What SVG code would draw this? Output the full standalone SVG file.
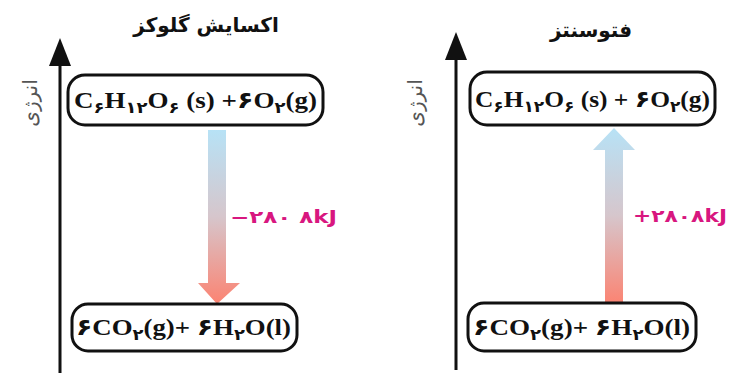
<svg xmlns="http://www.w3.org/2000/svg" width="736" height="373" viewBox="0 0 736 373">
<style>
.axis{stroke:#111;stroke-width:3;fill:none}
.head{fill:#111}
.box{fill:#fff;stroke:#111;stroke-width:3}
.f{font-family:"Liberation Serif","DejaVu Sans",serif;font-weight:bold;font-size:24px;fill:#111}
.s{font-size:16px}
.t{font-family:"DejaVu Sans","Noto Sans",sans-serif;font-weight:bold;font-size:20px;fill:#111}
.y{font-family:"DejaVu Sans","Noto Sans",sans-serif;font-size:20px;fill:#555}
.e{font-family:"DejaVu Sans","Liberation Sans",sans-serif;font-weight:bold;font-size:17px;fill:#d8177f}
</style>
<defs>
<linearGradient id="gL" x1="0" y1="130" x2="0" y2="303" gradientUnits="userSpaceOnUse">
<stop offset="0" stop-color="#b7e2f6"/>
<stop offset="0.5" stop-color="#d6c6cc"/>
<stop offset="1" stop-color="#fb8473"/>
</linearGradient>
<linearGradient id="gR" x1="0" y1="128" x2="0" y2="303" gradientUnits="userSpaceOnUse">
<stop offset="0" stop-color="#b7e2f6"/>
<stop offset="0.5" stop-color="#d6c6cc"/>
<stop offset="1" stop-color="#fb8473"/>
</linearGradient>
</defs>

<g id="oxidation">
<text class="t" x="206" y="32" text-anchor="middle" direction="rtl">اکسایش گلوکز</text>
<g id="axisL">
<line class="axis" x1="60" y1="62" x2="60" y2="373"/>
<polygon class="head" points="60,38 49,66 71,66"/>
<text class="y" transform="translate(37,103) rotate(-90)" text-anchor="middle" direction="rtl">انرژی</text>
</g>
</g>

<g id="photosynthesis">
<text class="t" x="591" y="37" text-anchor="middle" direction="rtl">فتوسنتز</text>
<g id="axisR">
<line class="axis" x1="456" y1="56" x2="456" y2="370"/>
<polygon class="head" points="456,32 445,60 467,60"/>
<text class="y" transform="translate(422,103) rotate(-90)" text-anchor="middle" direction="rtl">انرژی</text>
</g>
</g>

<g id="connectors">
<g id="arrowL">
<polygon fill="url(#gL)" points="208,130 226,130 226,283 240,283 217,304 198,283 208,283"/>
<text class="e" x="230" y="223" textLength="107" lengthAdjust="spacingAndGlyphs">−۲۸۰ ۸kJ</text>
</g>
<g id="arrowR">
<polygon fill="url(#gR)" points="614,128 635,150 623,150 623,303 605,303 605,150 593,150"/>
<text class="e" x="633" y="222" textLength="94" lengthAdjust="spacingAndGlyphs">+۲۸۰۸kJ</text>
</g>
</g>

<g id="nodeL1">
<rect class="box" x="68" y="75" width="255" height="50" rx="17"/>
<text class="f" x="74" y="108" textLength="243" lengthAdjust="spacingAndGlyphs">C<tspan class="s" dy="5">۶</tspan><tspan dy="-5">H</tspan><tspan class="s" dy="5">۱۲</tspan><tspan dy="-5">O</tspan><tspan class="s" dy="5">۶</tspan><tspan dy="-5"> (s) +</tspan>۶O<tspan class="s" dy="5">۲</tspan><tspan dy="-5">(g)</tspan></text>
</g>
<g id="nodeL2">
<rect class="box" x="72" y="304" width="225" height="47" rx="16"/>
<text class="f" x="76" y="335" textLength="215" lengthAdjust="spacingAndGlyphs">۶CO<tspan class="s" dy="5">۲</tspan><tspan dy="-5">(g)+ ۶H</tspan><tspan class="s" dy="5">۲</tspan><tspan dy="-5">O(l)</tspan></text>
</g>
<g id="nodeR1">
<rect class="box" x="470" y="72" width="245" height="53" rx="17"/>
<text class="f" x="475" y="107" textLength="235" lengthAdjust="spacingAndGlyphs">C<tspan class="s" dy="5">۶</tspan><tspan dy="-5">H</tspan><tspan class="s" dy="5">۱۲</tspan><tspan dy="-5">O</tspan><tspan class="s" dy="5">۶</tspan><tspan dy="-5"> (s) + </tspan>۶O<tspan class="s" dy="5">۲</tspan><tspan dy="-5">(g)</tspan></text>
</g>
<g id="nodeR2">
<rect class="box" x="468" y="303" width="228" height="48" rx="16"/>
<text class="f" x="473" y="335" textLength="217" lengthAdjust="spacingAndGlyphs">۶CO<tspan class="s" dy="5">۲</tspan><tspan dy="-5">(g)+ ۶H</tspan><tspan class="s" dy="5">۲</tspan><tspan dy="-5">O(l)</tspan></text>
</g>
</svg>
